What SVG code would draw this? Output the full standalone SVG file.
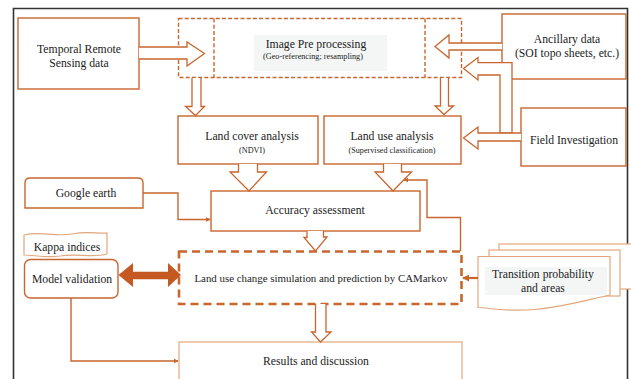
<svg xmlns="http://www.w3.org/2000/svg" width="631" height="379" viewBox="0 0 631 379">
<defs>
<style>
.b{fill:#fff;stroke:#c8662e;stroke-width:1.4}
.h{fill:#fff;stroke:#c8662e;stroke-width:1.3;stroke-linejoin:miter}
.ln{fill:none;stroke:#c8662e;stroke-width:1.4}
.lt{fill:#fff;stroke:#e2a77c;stroke-width:1.2}
.d1{fill:none;stroke:#c8662e;stroke-width:1.4;stroke-dasharray:4 2.2}
.d2{fill:none;stroke:#c8662e;stroke-width:2.6;stroke-dasharray:8 5}
.bg{fill:#f4f6f6}
text{font-family:"Liberation Serif","Times New Roman",serif;fill:#222;text-anchor:middle}
.t{font-size:11.7px}
.s{font-size:8.2px}
.m{font-size:10.9px}
</style>
<marker id="ah" viewBox="0 0 8 8" refX="7" refY="4" markerWidth="5" markerHeight="5" markerUnits="userSpaceOnUse" orient="auto">
<path d="M0,0 L8,4 L0,8 Z" fill="#c8662e"/>
</marker>
<marker id="ah2" viewBox="0 0 8 8" refX="7" refY="4" markerWidth="7" markerHeight="7" markerUnits="userSpaceOnUse" orient="auto">
<path d="M0,0 L8,4 L0,8 Z" fill="#c8662e"/>
</marker>
</defs>
<rect x="0" y="0" width="631" height="379" fill="#fff"/>
<path d="M13.5,385 V8.5 H627.5 V385" fill="none" stroke="#333" stroke-width="1.6"/>

<g id="temporal">
<rect class="b" x="18" y="18" width="121" height="71"/>
<text class="t" x="79" y="53">Temporal Remote</text>
<text class="t" x="79" y="67">Sensing data</text>
</g>

<g id="image-pre">
<rect class="bg" x="254" y="35" width="133" height="36"/>
<rect class="d1" x="178.5" y="18.5" width="283" height="59"/>
<line class="d1" x1="214" y1="18.5" x2="214" y2="77.5"/>
<line class="d1" x1="425" y1="18.5" x2="425" y2="77.5"/>
<text class="t" x="316" y="47.5">Image Pre processing</text>
<text class="s" x="313" y="59">(Geo-referencing; resampling)</text>
</g>

<g id="ancillary">
<rect class="b" x="502" y="14" width="124" height="65"/>
<text class="t" x="567" y="43">Ancillary data</text>
<text class="t" x="567" y="57">(SOI topo sheets, etc.)</text>
</g>

<g id="field">
<rect class="b" x="521" y="108" width="105" height="58"/>
<text class="t" x="574" y="144">Field Investigation</text>
</g>

<g id="land-cover">
<rect class="b" x="178" y="116" width="140" height="48"/>
<text class="t" x="252" y="140">Land cover analysis</text>
<text class="s" x="252" y="153">(NDVI)</text>
</g>

<g id="land-use">
<rect class="b" x="324" y="116" width="137" height="48"/>
<text class="t" x="392" y="140">Land use analysis</text>
<text class="s" x="392" y="153">(Supervised classification)</text>
</g>

<g id="google">
<path class="b" d="M25,208 V183 Q25,178 30,178 H138 Q143,178 143,183 V208 Z"/>
<text class="t" x="86" y="197">Google earth</text>
</g>

<g id="accuracy">
<rect class="b" x="211" y="191" width="209" height="40"/>
<text class="t" x="315" y="214">Accuracy assessment</text>
</g>

<g id="kappa">
<path class="lt" d="M24,235 C40,231 55,237 72,234 C88,231 98,234 107,233 V254 C92,258 78,253 60,256 C45,258 34,255 24,255 Z"/>
<text class="t" x="67" y="251">Kappa indices</text>
</g>

<g id="model-validation">
<rect class="b" x="24.5" y="259.5" width="93.5" height="38.5" rx="6"/>
<text class="t" x="72" y="283">Model validation</text>
</g>

<g id="camarkov">
<rect class="d2" x="179" y="251.5" width="282.5" height="52.5"/>
<text class="m" x="321" y="282">Land use change simulation and prediction by CAMarkov</text>
</g>

<g id="transition">
<rect class="lt" x="499" y="244" width="150" height="45"/>
<rect class="lt" x="489" y="250" width="131" height="46"/>
<path class="lt" d="M478,256.5 H610 V295 C590,299 570,306 535,309.5 C505,312 490,308 478,307.5 Z"/>
<rect class="bg" x="485" y="267" width="122" height="28"/>
<text class="t" x="543" y="278">Transition probability</text>
<text class="t" x="543" y="292">and areas</text>
</g>

<g id="results">
<rect x="179" y="342" width="283" height="50" fill="#fff" stroke="#e2a77c" stroke-width="1.2"/>
<text class="t" x="316" y="365">Results and discussion</text>
</g>

<g id="connectors">
<!-- temporal -> image -->
<path class="h" d="M139,47 H187 V42 L204.5,53.5 L187,66 V59 H139"/>
<!-- ancillary -> image -->
<path class="h" d="M502,43 H449 V35 L435,46.5 L449,58 V50 H502"/>
<!-- field -> image (bent) -->
<path class="h" d="M500,133 V75 H478 V80 L463.5,68.5 L478,57.5 V62.7 H512 V133 Z"/>
<!-- field -> land use -->
<path class="h" d="M521,133 H478 V127 L463.5,138 L478,149 V141 H521"/>
<!-- image -> land cover -->
<path class="h" d="M192,78 V106.5 H185.5 L195.5,115.5 L204.5,106.5 H201 V78"/>
<!-- image -> land use -->
<path class="h" d="M440.5,78 V106 H435 L444,114.5 L453.5,106 H448.5 V78"/>
<!-- land cover -> accuracy -->
<path class="h" d="M238.5,164 V172 H230 L249,191 L266.5,172 H257.5 V164"/>
<!-- land use -> accuracy -->
<path class="h" d="M383.5,164 V172 H375 L393,191 L411.5,172 H401.5 V164"/>
<!-- accuracy -> camarkov -->
<path class="h" d="M307,231 V237.5 H304 L315.5,251 L327,237 H323.5 V231"/>
<!-- camarkov -> results -->
<path class="h" d="M315.5,304 V332 H311.5 L320.5,342 L331,332 H326 V304"/>
<!-- google -> accuracy -->
<path class="ln" d="M143,193 H178 V219.5 H210" marker-end="url(#ah)"/>
<!-- camarkov -> accuracy feedback -->
<path class="ln" d="M460.5,251 V217.5 H427 V180 H404" marker-end="url(#ah)"/>
<!-- model validation -> results -->
<path class="ln" d="M71,298 V361 H178" marker-end="url(#ah)"/>
<!-- transition -> camarkov -->
<path fill="none" stroke="#c8662e" stroke-width="2.2" d="M478,278 H463" marker-end="url(#ah2)"/>
<!-- model validation <-> camarkov -->
<path fill="#c45a22" d="M118.5,275 L133,263 V271.7 H168 V263 L181,275 L168,287 V279.3 H133 V287 Z"/>
</g>
</svg>
